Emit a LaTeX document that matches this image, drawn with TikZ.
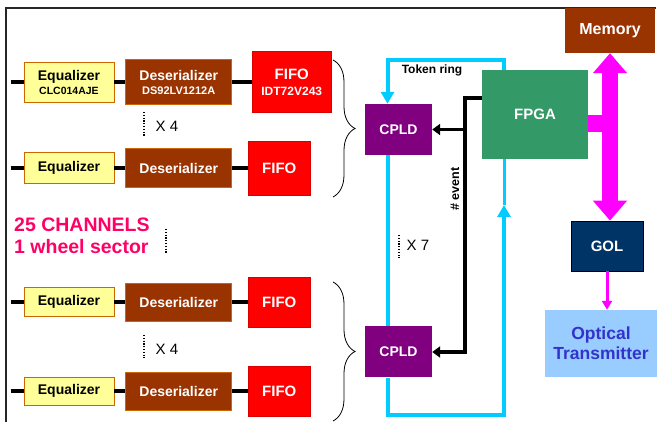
\documentclass[tikz,border=0pt]{standalone}
\usepackage{fontspec}
\setmainfont{Liberation Sans}
\usepackage{xcolor}
\usepackage{tikz}
\usetikzlibrary{arrows.meta, positioning, calc, decorations.pathreplacing}

\definecolor{eqyellow}{HTML}{FFFF99}
\definecolor{eqborder}{HTML}{CC6600}
\definecolor{desbrown}{HTML}{993300}
\definecolor{fifored}{HTML}{FF0000}
\definecolor{cpldpurple}{HTML}{800080}
\definecolor{fpgagreen}{HTML}{339966}
\definecolor{golblue}{HTML}{003366}
\definecolor{optblue}{HTML}{99CCFF}
\definecolor{opttext}{HTML}{3333CC}
\definecolor{ringcyan}{HTML}{00CCFF}
\definecolor{chanpink}{HTML}{FF0066}
\definecolor{busmagenta}{HTML}{FF00FF}

\tikzstyle{equalizer} = [rectangle, minimum width=90pt, inner sep=0pt, align=center, fill=eqyellow, draw=eqborder, line width=0.8pt, font=\fontsize{14}{15}\selectfont\bfseries]
\tikzstyle{deserializer} = [rectangle, minimum width=106pt, inner sep=0pt, align=center, fill=desbrown, draw=eqborder, line width=0.6pt, text=white, font=\fontsize{14}{15}\selectfont\bfseries]
\tikzstyle{fifo} = [rectangle, inner sep=0pt, align=center, fill=fifored, draw=red!85!black, line width=0.5pt, text=white, font=\fontsize{15}{17}\selectfont\bfseries]
\tikzstyle{cpld} = [rectangle, minimum width=67pt, minimum height=51pt, fill=cpldpurple, text=white, font=\fontsize{14}{15}\selectfont\bfseries]
\tikzstyle{fpga} = [rectangle, minimum width=106pt, minimum height=89pt, fill=fpgagreen, text=white, font=\fontsize{15}{16}\selectfont\bfseries]
\tikzstyle{memory} = [rectangle, minimum width=90pt, minimum height=45pt, fill=desbrown, text=white, font=\fontsize{16}{17}\selectfont\bfseries]
\tikzstyle{gol} = [rectangle, minimum width=72pt, minimum height=50pt, fill=golblue, draw=black, line width=0.8pt, text=white, font=\fontsize{15}{16}\selectfont\bfseries]
\tikzstyle{optical} = [rectangle, minimum width=112pt, minimum height=67pt, align=center, fill=optblue, text=opttext, font=\fontsize{17.5}{20}\selectfont\bfseries]
\tikzstyle{note} = [inner sep=0pt, font=\fontsize{12}{13}\selectfont\bfseries]
\tikzstyle{times} = [inner sep=0pt, font=\fontsize{15}{16}\selectfont]
\tikzstyle{channels} = [inner sep=0pt, align=left, text=chanpink, font=\fontsize{19.5}{22}\selectfont\bfseries]
\tikzstyle{wire} = [line width=3.5pt, black]
\tikzstyle{ring} = [line width=4pt, ringcyan, -{Triangle[length=12pt,width=13pt]}]
\tikzstyle{eventarrow} = [line width=3.5pt, black, -{Triangle[length=8pt,width=11pt]}]
\tikzstyle{busarrow} = [line width=16pt, busmagenta, {Triangle[length=20pt,width=33pt]}-{Triangle[length=20pt,width=33pt]}]
\tikzstyle{busbar} = [line width=17pt, busmagenta]
\tikzstyle{optarrow} = [line width=3pt, busmagenta, -{Triangle[length=9pt,width=10pt]}]
\tikzstyle{dotline} = [line width=1.6pt, dash pattern=on 1.3pt off 1.5pt]
\tikzstyle{bracket} = [line width=0.8pt, decorate, decoration={brace, amplitude=22pt}]
\tikzstyle{outerframe} = [line width=2pt, black!85]

\begin{document}
\begin{tikzpicture}[x=1pt, y=-1pt]
\useasboundingbox (0,0) rectangle (657,422);

% Frame
\draw[outerframe] (6,422) -- (6,8) -- (656,8);

% Channel rows
\node (eq1) [equalizer, minimum height=40pt] at (69,82) {Equalizer\\[-1pt]{\fontsize{10.5}{11}\selectfont CLC014AJE}};
\node (des1) [deserializer, minimum height=45pt, right=11pt of eq1] {Deserializer\\[-1pt]{\fontsize{11}{12}\selectfont DS92LV1212A}};
\node (fifo1) [fifo, minimum width=79pt, minimum height=61pt, right=20pt of des1] {FIFO\\[-1pt]{\fontsize{12}{13}\selectfont IDT72V243}};

\node (eq2) [equalizer, minimum height=31pt] at (69,168) {Equalizer};
\node (des2) [deserializer, minimum height=39pt, right=11pt of eq2] {Deserializer};
\node (fifo2) [fifo, minimum width=62pt, minimum height=54pt, right=16pt of des2] {FIFO};

\node (eq3) [equalizer, minimum height=29pt] at (69,302) {Equalizer};
\node (des3) [deserializer, minimum height=38pt, right=11pt of eq3] {Deserializer};
\node (fifo3) [fifo, minimum width=62pt, minimum height=50pt, right=16pt of des3] {FIFO};

\node (eq4) [equalizer, minimum height=28pt] at (69,391) {Equalizer};
\node (des4) [deserializer, minimum height=38pt, right=11pt of eq4] {Deserializer};
\node (fifo4) [fifo, minimum width=62pt, minimum height=50pt, right=16pt of des4] {FIFO};

\foreach \i in {1,...,4} {
  \coordinate (in\i) at ($(eq\i.west)+(-13,0)$);
  \draw[wire] (in\i) -- (eq\i.west);
  \draw[wire] (eq\i.east) -- (des\i.west);
  \draw[wire] (des\i.east) -- (fifo\i.west);
}

% Multiplicity marks
\node (x4a) [times] at (167,126) {X 4};
\draw[dotline] (144,112) -- (144,136);
\node (x4b) [times] at (167,349) {X 4};
\draw[dotline] (144,335) -- (144,358);
\node (chan) [channels, anchor=west] at (14,236) {25 CHANNELS\\1 wheel sector};
\draw[dotline] (166,229) -- (166,253);

% Braces
\draw[bracket] (333,60) -- (333,197);
\draw[bracket] (333,282) -- (333,421);

% Readout
\node (cpld1) [cpld] at (398.5,129.5) {CPLD};
\node (cpld2) [cpld] at (398.5,352) {CPLD};
\node (fpga) [fpga] at (535,114.5) {FPGA};
\node (mem) [memory] at (610,30.5) {Memory};
\node (gol) [gol] at (607,246) {GOL};
\node (opt) [optical] at (601,343.5) {Optical\\Transmitter};

\node (x7) [times] at (418,245) {X 7};
\draw[dotline] (399,235) -- (399,258);

% Token ring
\coordinate (ringTL) at (387.5,60);
\coordinate (ringTR) at (504,60);
\coordinate (ringBL) at (387.5,415);
\coordinate (ringBR) at (504,415);
\coordinate (ringmid) at (504,205);
\node (token) [note] at (432,70) {Token ring};
\draw[ring] (ringTR |- fpga.north) -- (ringTR) -- (ringTL) -- (ringTL |- cpld1.north);
\draw[ring, -] (ringTL |- cpld1.south) -- (ringTL |- cpld2.north);
\draw[ring] (ringTL |- cpld2.south) -- (ringBL) -- (ringBR) -- (ringmid);
\draw[ring, -, line width=3pt] (ringmid) -- (ringmid |- fpga.south);

% Event lines
\coordinate (evtop) at (465,98);
\draw[eventarrow] (evtop -| fpga.west) -- (evtop) |- (cpld2.east);
\draw[eventarrow] (evtop |- cpld1.east) -- (cpld1.east);
\node (evlabel) [note, rotate=90, font=\fontsize{12.5}{13}\selectfont\bfseries] at (455,189) {\# event};

% Memory bus and output
\coordinate (tap) at (610,124);
\draw[busbar] (tap -| fpga.east) -- (tap);
\draw[busarrow] (mem.south) -- (mem.south |- gol.north);
\draw[optarrow] (gol.south) -- (gol.south |- opt.north);

\end{tikzpicture}
\end{document}
